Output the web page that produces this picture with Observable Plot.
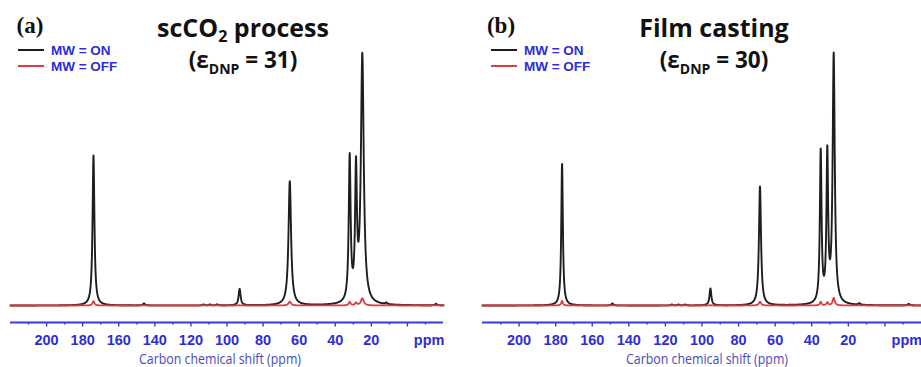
<!DOCTYPE html>
<html>
<head>
<meta charset="utf-8">
<script src="https://cdn.jsdelivr.net/npm/d3@7"></script>
<script src="https://cdn.jsdelivr.net/npm/@observablehq/plot@0.6"></script>
<style>
  body { margin: 0; background: #fff; }
  #fig { position: relative; width: 921px; height: 367px; overflow: hidden; background: #fff; }
  .panel { position: absolute; top: 0; }
  .overlay { position: absolute; top: 0; left: 0; pointer-events: none; }
</style>
</head>
<body>
<div id="fig"></div>
<script>
// Series (legend entries) and their line colours
const seriesNames = ["MW = ON", "MW = OFF"];
const seriesColors = ["#1e1e1e", "#dc3c3c"];

// Panel labels and headings
const panelTags = ["(a)", "(b)"];
const titleMain = ["scCO", "Film casting"];
const titleSub = ["2", ""];
const titleTail = [" process", ""];
const enhancement = [31, 30];

// Axis ticks (ppm)
const majorTicks = [200, 180, 160, 140, 120, 100, 80, 60, 40, 20, 0];
const minorTicks = [210, 190, 170, 150, 130, 110, 90, 70, 50, 30, 10, -10];
const unitLabel = "ppm";
const unitAt = -12;
const axisTitle = "Carbon chemical shift (ppm)";
const ppmRange = [220, -20];

// Peak tables: chemical shift (ppm), half width (ppm), intensity (a.u.)
// (a) scCO2 process
const shiftsA  = [174.0, 146.0, 113.0, 109.5, 105.5, 93.0, 65.2, 32.0, 28.5, 25.0, 11.7, -15.8];
const widthsA  = [0.62, 0.60, 0.50, 0.50, 0.50, 0.65, 0.85, 0.62, 0.60, 0.95, 0.60, 0.60];
const onA      = [59.3, 0.8, 0.4, 0.4, 0.4, 6.5, 49.0, 57.0, 50.5, 98.0, 0.6, 0.6];
const offA     = [1.7, 0.1, 0.1, 0.1, 0.1, 0.1, 1.5, 1.4, 1.0, 2.8, 0.1, 0.1];
// (b) Film casting
const shiftsB  = [176.5, 149.0, 116.5, 112.9, 109.3, 95.4, 68.3, 35.1, 31.5, 28.0, 14.0, -13.0];
const widthsB  = [0.52, 0.60, 0.50, 0.50, 0.50, 0.60, 0.68, 0.55, 0.55, 0.70, 0.60, 0.60];
const onB      = [56.0, 0.8, 0.4, 0.4, 0.4, 6.7, 47.0, 59.8, 58.2, 98.2, 0.6, 0.6];
const offB     = [1.8, 0.1, 0.1, 0.1, 0.1, 0.1, 1.5, 1.4, 1.2, 3.0, 0.1, 0.1];

const blue = "#2e2ed2";
const axisBlue = "#3a3ad6";
const titleBlue = "#4a4ab6";

// Lorentzian line shape summed over a peak table, sampled across the ppm window
function spectrum(shifts, widths, heights, series) {
  const pts = [];
  const step = 0.04;
  const n = Math.round((ppmRange[0] - ppmRange[1]) / step);
  for (let i = 0; i <= n; i++) {
    const ppm = ppmRange[0] - i * step;
    let v = 0;
    for (let k = 0; k < shifts.length; k++) {
      const u = (ppm - shifts[k]) / widths[k];
      v += heights[k] / (1 + u * u);
    }
    pts.push({ppm, v, series});
  }
  return pts;
}

const panels = [
  {left: 0, width: 460, ml: 10, mr: 17,
   on: spectrum(shiftsA, widthsA, onA, seriesNames[0]),
   off: spectrum(shiftsA, widthsA, offA, seriesNames[1])},
  {left: 460, width: 461, ml: 22, mr: 0,
   on: spectrum(shiftsB, widthsB, onB, seriesNames[0]),
   off: spectrum(shiftsB, widthsB, offB, seriesNames[1])}
];

const H = 367;
const marginTop = 52;
const marginBottom = 45;
const yFloor = -6.72; // axis line sits a little below the spectrum baseline

const fig = document.getElementById("fig");
const tickFont = "Liberation Sans, Arial, sans-serif";

panels.forEach((p, i) => {
  const chart = Plot.plot({
    width: p.width,
    height: H,
    marginLeft: p.ml,
    marginRight: p.mr,
    marginTop,
    marginBottom,
    style: {background: "transparent", overflow: "visible"},
    x: {domain: ppmRange, label: null},
    y: {domain: [yFloor, 100], axis: null, label: null},
    marks: [
      Plot.ruleY([yFloor], {stroke: axisBlue, strokeWidth: 1.8}),
      Plot.axisX({ticks: minorTicks, tickSize: 2.5, tickFormat: () => "", label: null,
        stroke: axisBlue, strokeWidth: 1.4}),
      Plot.axisX({ticks: majorTicks, tickSize: 4.5, tickPadding: 7.5, label: null,
        stroke: axisBlue, strokeWidth: 1.4,
        tickFormat: d => d === 0 ? "" : String(d),
        fill: blue, fontSize: 14.5, fontWeight: "bold", fontFamily: tickFont}),
      Plot.axisX({ticks: [unitAt], tickSize: 0, tickPadding: 12, label: null,
        tickFormat: () => unitLabel,
        fill: blue, fontSize: 14.5, fontWeight: "bold", fontFamily: tickFont}),
      Plot.line(p.on, {x: "ppm", y: "v", stroke: seriesColors[0], strokeWidth: 1.9, curve: "linear"}),
      Plot.line(p.off, {x: "ppm", y: "v", stroke: seriesColors[1], strokeWidth: 1.8, curve: "linear"})
    ]
  });
  chart.classList.add("panel");
  chart.style.left = p.left + "px";
  fig.appendChild(chart);
});

// Headings, panel tags, legends and axis titles drawn in an overlay
const ov = d3.select(fig).append("svg")
  .attr("class", "overlay")
  .attr("width", 921).attr("height", H);

const layout = [
  {tagX: 30, titleX: 243, legX: 18, axisTitleX: 220},
  {tagX: 501, titleX: 714, legX: 491, axisTitleX: 707}
];

layout.forEach((L, i) => {
  ov.append("text")
    .attr("x", L.tagX).attr("y", 33)
    .attr("text-anchor", "middle")
    .attr("font-family", "Liberation Serif, Times New Roman, serif")
    .attr("font-weight", "bold").attr("font-size", 23)
    .attr("fill", "#111")
    .text(panelTags[i]);

  const t = ov.append("text")
    .attr("x", L.titleX).attr("y", 37)
    .attr("text-anchor", "middle")
    .attr("font-family", "Open Sans, sans-serif")
    .attr("font-weight", "bold").attr("font-size", 25)
    .attr("fill", "#111");
  t.append("tspan").text(titleMain[i]);
  if (titleSub[i]) {
    t.append("tspan").attr("dy", 5).attr("font-size", 16).text(titleSub[i]);
    t.append("tspan").attr("dy", -5).text(titleTail[i]);
  }

  const e = ov.append("text")
    .attr("x", L.titleX).attr("y", 68)
    .attr("text-anchor", "middle")
    .attr("font-family", "Open Sans, sans-serif")
    .attr("font-weight", "bold").attr("font-size", 22.5)
    .attr("fill", "#111");
  e.append("tspan").text("(ε");
  e.append("tspan").attr("dy", 6).attr("font-size", 14).text("DNP");
  e.append("tspan").attr("dy", -6).text(" = " + enhancement[i] + ")");

  seriesNames.forEach((name, k) => {
    const y = 50 + k * 16;
    ov.append("line")
      .attr("x1", L.legX).attr("x2", L.legX + 26)
      .attr("y1", y).attr("y2", y)
      .attr("stroke", seriesColors[k]).attr("stroke-width", 2);
    ov.append("text")
      .attr("x", L.legX + 33).attr("y", y)
      .attr("dy", "0.36em")
      .attr("font-family", tickFont)
      .attr("font-weight", "bold").attr("font-size", 13.5)
      .attr("fill", blue)
      .text(name);
  });

  ov.append("text")
    .attr("x", L.axisTitleX).attr("y", 359)
    .attr("dy", "0.35em")
    .attr("text-anchor", "middle")
    .attr("font-family", "Open Sans, sans-serif")
    .attr("font-size", 15)
    .attr("textLength", 162)
    .attr("lengthAdjust", "spacingAndGlyphs")
    .attr("fill", titleBlue)
    .text(axisTitle);
});
</script>
</body>
</html>
